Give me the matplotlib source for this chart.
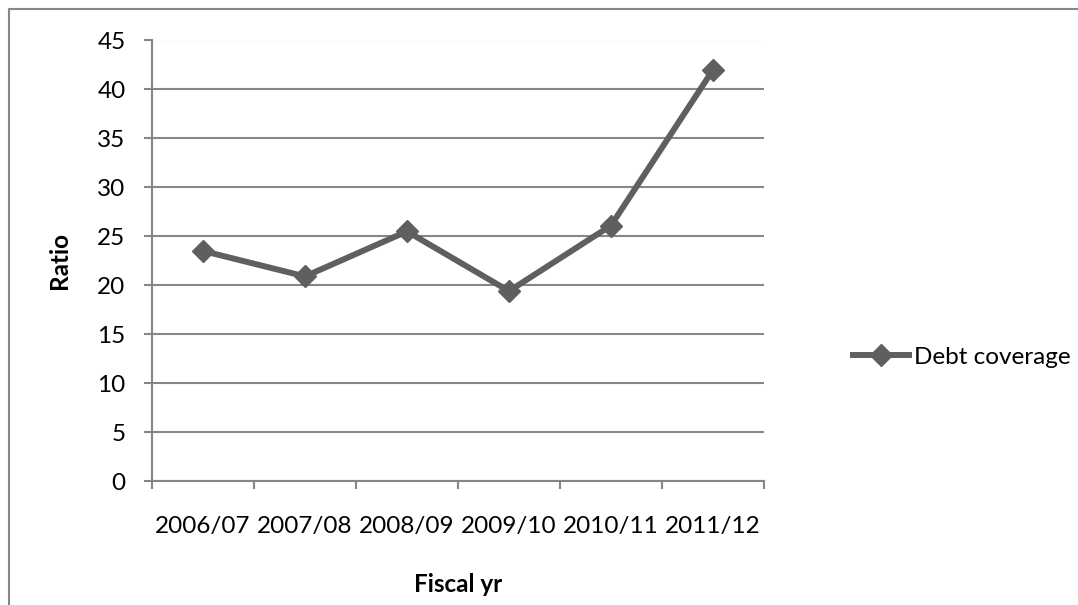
import matplotlib
matplotlib.use("Agg")
import matplotlib.pyplot as plt
from matplotlib.lines import Line2D
import numpy as np

categories = ["2006/07", "2007/08", "2008/09", "2009/10", "2010/11", "2011/12"]
debt_coverage = [23.5, 20.9, 25.5, 19.4, 26.1, 42.0]
y_ticks = [0, 5, 10, 15, 20, 25, 30, 35, 40, 45]

plt.rcParams['font.family'] = ['Lato', 'DejaVu Sans']

W, H = 1078, 605
fig = plt.figure(figsize=(W / 100, H / 100), dpi=100)
ax = fig.add_axes([152 / W, 1 - 481 / H, (764 - 152) / W, (481 - 40.5) / H])

FS = 17.5
grey = "#878787"
x = np.arange(len(categories))
line_color = "#5f5f5f"
ax.plot(x, debt_coverage, color=line_color, linewidth=4.3, marker="D",
        markersize=11, markerfacecolor=line_color, markeredgecolor=line_color,
        label="Debt coverage", zorder=3)

ax.set_xlim(-0.5, len(categories) - 0.5)
ax.set_ylim(0, 45)
ax.set_yticks(y_ticks)
ax.set_yticklabels([str(v) for v in y_ticks], fontsize=FS)
ax.yaxis.grid(True, color=grey, linewidth=1.5)
ax.set_axisbelow(True)

ax.set_xticks(np.arange(-0.5, len(categories), 1.0))
ax.set_xticklabels([])
ax.set_xticks(x, minor=True)
ax.set_xticklabels(categories, minor=True, fontsize=FS)
ax.tick_params(axis='x', which='minor', length=0, pad=25)
ax.tick_params(axis='x', which='major', length=6, color=grey, width=1.5, direction='out')
ax.tick_params(axis='y', length=6, color=grey, width=1.5, direction='out', pad=13)

for side in ["top", "right"]:
    ax.spines[side].set_visible(False)
for side in ["left", "bottom"]:
    ax.spines[side].set_color(grey)
    ax.spines[side].set_linewidth(1.5)

ax.set_ylabel("Ratio", fontsize=FS, fontweight="bold", labelpad=19)
ax.set_xlabel("Fiscal yr", fontsize=FS, fontweight="bold", labelpad=26)

leg = ax.legend(loc="center left", bbox_to_anchor=(853 / W, 1 - 357 / H),
                bbox_transform=fig.transFigure, frameon=False, borderpad=0,
                borderaxespad=0, fontsize=FS, handlelength=2.3, handletextpad=0.2)

fig.lines.append(Line2D([9 / W, 9 / W, 1.0], [0.0, 1 - 9 / H, 1 - 9 / H],
                        transform=fig.transFigure, color=grey, linewidth=1.5))

fig.savefig("out.png", dpi=100)
